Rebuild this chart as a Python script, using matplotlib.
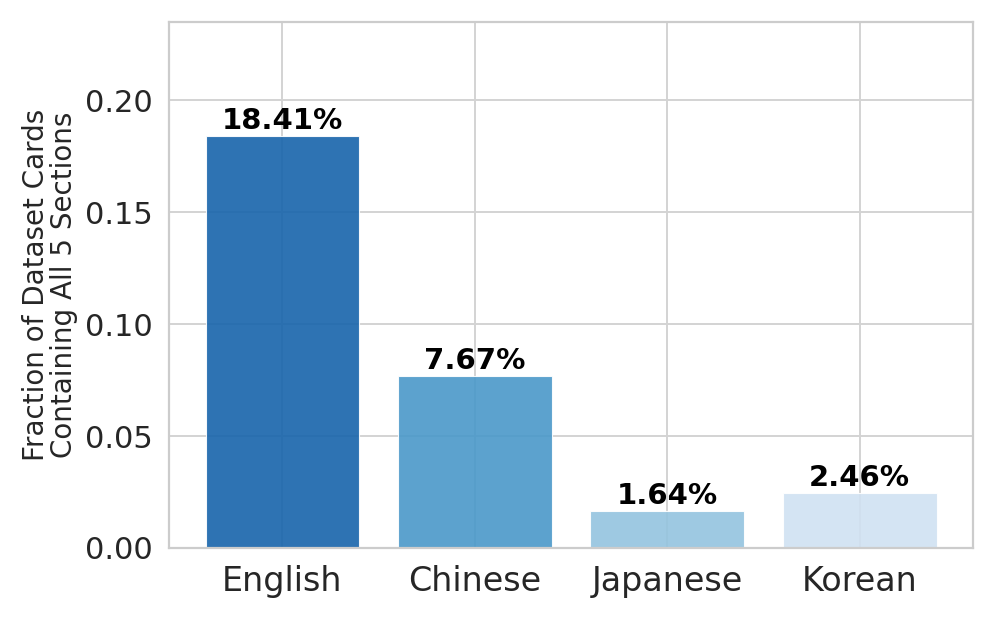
import numpy as np
import matplotlib
matplotlib.use("Agg")
import matplotlib.pyplot as plt
import seaborn as sns

languages = ["English", "Chinese", "Japanese", "Korean"]
fractions = [0.1841, 0.0767, 0.0164, 0.0246]
labels = ["18.41%", "7.67%", "1.64%", "2.46%"]

sns.set_theme(style="whitegrid")
plt.rcParams['font.family'] = ['DejaVu Sans']

colors = sns.color_palette("Blues_r", len(languages))

fig = plt.figure(figsize=(4.985, 3.115), dpi=200)
ax = fig.add_axes([0.1695, 0.1204, 0.8065, 0.8443])

x = np.arange(len(languages))
bars = ax.bar(x, fractions, color=colors, alpha=0.9, width=0.8,
              edgecolor="white", linewidth=0.4)

for xi, h, lab in zip(x, fractions, labels):
    ax.text(xi, h + 0.0004, lab, ha="center", va="bottom",
            fontsize=10.5, fontweight="bold", color="black")

ax.set_xticks(x)
ax.set_xticklabels(languages, fontsize=12)
ax.tick_params(axis="y", labelsize=11)
ax.tick_params(axis="both", length=0, pad=6)
ax.set_ylim(0, 0.235)
ax.set_yticks([0.0, 0.05, 0.10, 0.15, 0.20])
ax.set_yticklabels(["0.00", "0.05", "0.10", "0.15", "0.20"])
ax.set_ylabel("Fraction of Dataset Cards\nContaining All 5 Sections", fontsize=10,
              linespacing=1.0, labelpad=2.5)
ax.grid(True, linewidth=0.7, color="#d3d3d3")
ax.set_axisbelow(True)
for sp in ax.spines.values():
    sp.set_linewidth(0.8)
    sp.set_color("#cccccc")

fig.savefig("out.png", dpi=200)
